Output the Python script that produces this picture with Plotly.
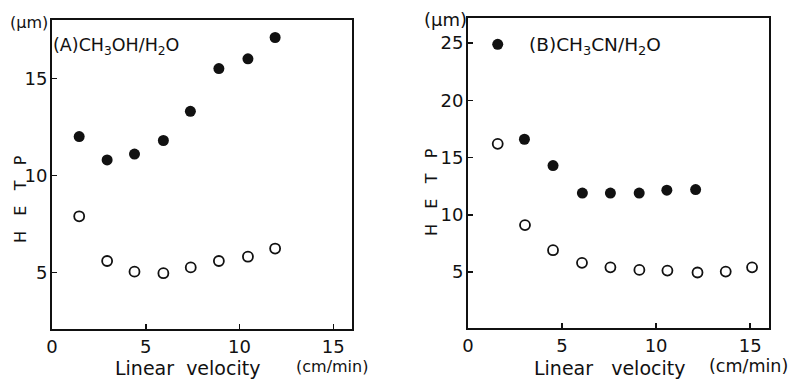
import plotly.graph_objects as go

# Panel A: CH3OH/H2O
a_filled_x = [1.45, 2.94, 4.4, 5.94, 7.38, 8.9, 10.45, 11.9]
a_filled_y = [12.0, 10.8, 11.1, 11.8, 13.3, 15.5, 16.0, 17.1]
a_open_x = [1.45, 2.94, 4.4, 5.94, 7.4, 8.9, 10.45, 11.9]
a_open_y = [7.9, 5.6, 5.05, 4.97, 5.27, 5.6, 5.82, 6.24]

# Panel B: CH3CN/H2O
b_filled_x = [1.58, 3.0, 4.52, 6.08, 7.57, 9.1, 10.57, 12.1]
b_filled_y = [24.9, 16.6, 14.3, 11.9, 11.9, 11.9, 12.15, 12.2]
b_open_x = [1.58, 3.03, 4.52, 6.06, 7.57, 9.11, 10.6, 12.2, 13.7, 15.1]
b_open_y = [16.2, 9.1, 6.9, 5.8, 5.4, 5.18, 5.12, 4.95, 5.03, 5.4]

a_yticks = [5, 10, 15]
b_yticks = [5, 10, 15, 20, 25]
xticks = [0, 5, 10, 15]

FONT = "DejaVu Sans"
BLACK = "#111111"

fig = go.Figure()

def add_series(x, y, xa, ya, filled):
    if filled:
        marker = dict(size=11, color=BLACK, symbol="circle", line=dict(width=0))
    else:
        marker = dict(size=10, color=BLACK, symbol="circle-open",
                      line=dict(width=1.8, color=BLACK))
    fig.add_trace(go.Scatter(x=x, y=y, mode="markers", marker=marker,
                             xaxis=xa, yaxis=ya, showlegend=False,
                             cliponaxis=False, hoverinfo="skip"))

add_series(a_filled_x, a_filled_y, "x", "y", True)
add_series(a_open_x, a_open_y, "x", "y", False)
add_series(b_filled_x, b_filled_y, "x2", "y2", True)
add_series(b_open_x, b_open_y, "x2", "y2", False)

W, H = 792, 379

def xa(dom):
    return dict(domain=dom, range=[0, 16], tickvals=xticks,
                ticks="inside", ticklen=5, tickwidth=1.5, tickcolor=BLACK,
                showline=True, linewidth=2, linecolor=BLACK, mirror=True,
                showgrid=False, zeroline=False, automargin=False,
                tickfont=dict(family=FONT, size=18, color=BLACK))

def ya(dom, rng, tv):
    return dict(domain=dom, range=rng, tickvals=tv,
                ticks="inside", ticklen=5, tickwidth=1.5, tickcolor=BLACK,
                showline=True, linewidth=2, linecolor=BLACK, mirror=True,
                showgrid=False, zeroline=False, automargin=False,
                ticklabelstandoff=-1,
                tickfont=dict(family=FONT, size=18, color=BLACK))

xaxis = xa([52 / W, 352 / W])
yaxis = ya([1 - 329 / H, 1 - 20 / H], [2.1, 18.0], a_yticks)
xaxis2 = xa([468 / W, 769 / W])
yaxis2 = ya([1 - 328 / H, 1 - 18 / H], [0.1, 27.2], b_yticks)
xaxis2["anchor"] = "y2"
yaxis2["anchor"] = "x2"

def txt(text, x, y, size=16, angle=0, xanchor="center"):
    return dict(text=text, x=x / W, y=1 - y / H, xref="paper", yref="paper",
                showarrow=False, textangle=angle, xanchor=xanchor,
                yanchor="middle",
                font=dict(family=FONT, size=size, color=BLACK))

annotations = [
    txt("(μm)", 29, 22, size=16),
    txt("(A)CH<sub>3</sub>OH/H<sub>2</sub>O", 51, 46, size=17.5, xanchor="left"),
    txt("H   E   T   P", 20, 199, size=16, angle=-90),
    txt("Linear  velocity", 187, 368, size=19),
    txt("(cm/min)", 332, 366, size=16),
    txt("(μm)", 445, 19, size=18),
    txt("(B)CH<sub>3</sub>CN/H<sub>2</sub>O", 527, 46, size=18.5, xanchor="left"),
    txt("H   E   T   P", 431, 192, size=16, angle=-90),
    txt("Linear   velocity", 609, 368, size=19),
    txt("(cm/min)", 748, 366, size=17.5),
]

fig.update_layout(
    width=W, height=H,
    margin=dict(l=0, r=0, t=0, b=0, autoexpand=False),
    paper_bgcolor="white", plot_bgcolor="white",
    xaxis=xaxis, yaxis=yaxis, xaxis2=xaxis2, yaxis2=yaxis2,
    annotations=annotations,
    showlegend=False,
    hovermode=False,
)

fig.write_html("out.html",
               config={"displayModeBar": False, "staticPlot": True},
               post_script="document.body.style.margin='0';document.body.style.overflow='hidden';")
